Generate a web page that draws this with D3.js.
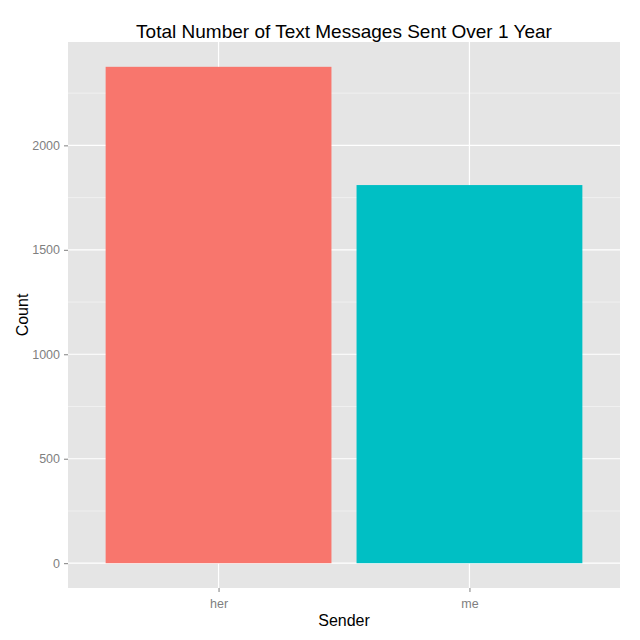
<!DOCTYPE html>
<html>
<head>
<meta charset="utf-8">
<script src="https://cdn.jsdelivr.net/npm/d3@7"></script>
<style>
  body { margin: 0; background: #fff; }
  text { font-family: "Liberation Sans", Arial, sans-serif; }
</style>
</head>
<body>
<div id="chart"></div>
<script>
// Data
const senders = ['her', 'me'];
const counts = [2376, 1810];
const barColors = ['#F8766D', '#00BFC4'];
const yTicks = [0, 500, 1000, 1500, 2000];
const yMinorTicks = [250, 750, 1250, 1750, 2250];

const width = 640, height = 640;
const margin = { top: 42, right: 20, bottom: 52, left: 68 };
const innerW = width - margin.left - margin.right;
const innerH = height - margin.top - margin.bottom;

const svg = d3.select('#chart').append('svg')
    .attr('width', width)
    .attr('height', height);

const g = svg.append('g')
    .attr('transform', `translate(${margin.left},${margin.top})`);

// ggplot-like expansion: 5% on continuous, 0.6 units on discrete
const maxVal = d3.max(counts);
const y = d3.scaleLinear()
    .domain([-0.05 * maxVal, 1.05 * maxVal])
    .range([innerH, 0]);

const xPos = d3.scaleLinear()
    .domain([0.4, senders.length + 0.6])
    .range([0, innerW]);
const x = name => xPos(senders.indexOf(name) + 1);
const barW = xPos(1.45) - xPos(0.55);

// panel
g.append('rect')
    .attr('width', innerW)
    .attr('height', innerH)
    .attr('fill', '#E5E5E5');

// minor gridlines
g.selectAll('.minor')
    .data(yMinorTicks)
    .enter().append('line')
    .attr('x1', 0).attr('x2', innerW)
    .attr('y1', d => y(d)).attr('y2', d => y(d))
    .attr('stroke', '#F2F2F2')
    .attr('stroke-width', 0.8);

// major gridlines
g.selectAll('.major-y')
    .data(yTicks)
    .enter().append('line')
    .attr('x1', 0).attr('x2', innerW)
    .attr('y1', d => y(d)).attr('y2', d => y(d))
    .attr('stroke', '#fff')
    .attr('stroke-width', 1.2);

g.selectAll('.major-x')
    .data(senders)
    .enter().append('line')
    .attr('x1', d => x(d)).attr('x2', d => x(d))
    .attr('y1', 0).attr('y2', innerH)
    .attr('stroke', '#fff')
    .attr('stroke-width', 1.2);

// bars
g.selectAll('.bar')
    .data(senders)
    .enter().append('rect')
    .attr('x', d => x(d) - barW / 2)
    .attr('width', barW)
    .attr('y', (d, i) => y(counts[i]))
    .attr('height', (d, i) => y(0) - y(counts[i]))
    .attr('fill', (d, i) => barColors[i]);

// y axis
const yAxis = g.append('g')
    .call(d3.axisLeft(y).tickValues(yTicks).tickFormat(d3.format('d'))
        .tickSize(4).tickPadding(4));
yAxis.select('.domain').remove();
yAxis.selectAll('line').attr('stroke', '#7F7F7F');
yAxis.selectAll('text')
    .attr('fill', '#7F7F7F')
    .style('font-size', '12.5px');

// x axis
const xAxis = g.append('g')
    .attr('transform', `translate(0,${innerH})`)
    .call(d3.axisBottom(xPos).tickValues(senders.map((d, i) => i + 1))
        .tickFormat((d, i) => senders[i]).tickSize(4).tickPadding(7));
xAxis.select('.domain').remove();
xAxis.selectAll('line').attr('stroke', '#7F7F7F');
xAxis.selectAll('text')
    .attr('fill', '#7F7F7F')
    .style('font-size', '12.5px');

// titles
svg.append('text')
    .attr('x', margin.left + innerW / 2)
    .attr('y', 38)
    .attr('text-anchor', 'middle')
    .style('font-size', '19px')
    .attr('fill', '#000')
    .text('Total Number of Text Messages Sent Over 1 Year');

svg.append('text')
    .attr('x', margin.left + innerW / 2)
    .attr('y', 626)
    .attr('text-anchor', 'middle')
    .style('font-size', '16px')
    .attr('fill', '#000')
    .text('Sender');

svg.append('text')
    .attr('transform', `translate(28,${margin.top + innerH / 2}) rotate(-90)`)
    .attr('text-anchor', 'middle')
    .style('font-size', '16px')
    .attr('fill', '#000')
    .text('Count');
</script>
</body>
</html>
